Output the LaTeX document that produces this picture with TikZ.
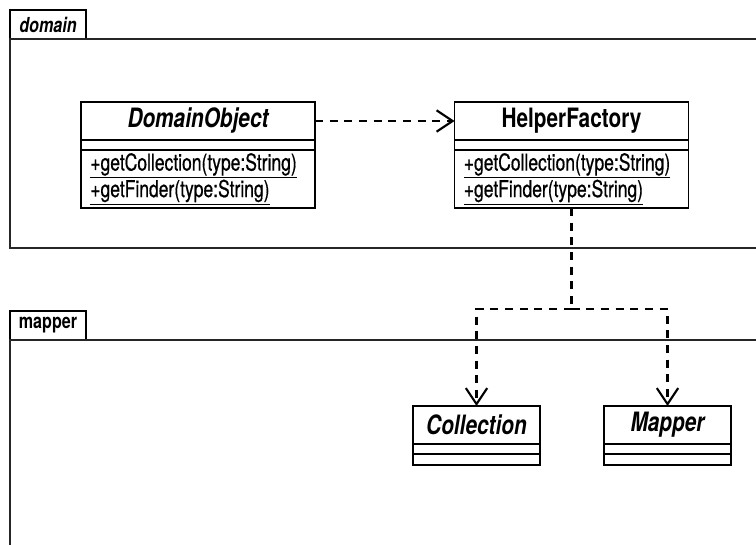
\documentclass[tikz,border=0pt]{standalone}
\usepackage{fontspec}
\setmainfont{TeX Gyre Heros}[FakeStretch=0.78]
\newfontfamily\opsfont{TeX Gyre Heros}[FakeStretch=0.75, FakeBold=0.6]
\usetikzlibrary{positioning, arrows.meta}
\tikzset{
	pkgtab/.style={
			draw=black,
			line width=1.3pt,
			minimum width=57pt,
			minimum height=21.75pt,
			inner sep=0pt,
			font=\fontsize{15.5}{17}\selectfont\bfseries
		},
	pkgline/.style={
			draw=black!85,
			line width=1.2pt
		},
	classname/.style={
			draw=black,
			line width=1.3pt,
			minimum width=175.5pt,
			minimum height=28.5pt,
			inner sep=0pt,
			outer sep=0pt,
			font=\fontsize{20}{22}\selectfont\bfseries
		},
	classattr/.style={
			classname,
			minimum height=7.5pt
		},
	classops/.style={
			draw=black,
			line width=1.3pt,
			text width=161.5pt,
			inner xsep=7pt,
			inner ysep=0pt,
			outer sep=0pt,
			minimum height=43.5pt,
			align=left,
			font=\opsfont\fontsize{17.5}{18}\selectfont
		},
	smallname/.style={
			classname,
			minimum width=95.25pt
		},
	smallpart/.style={
			smallname,
			minimum height=7.5pt
		},
	depline/.style={
			draw=black,
			line width=1.6pt,
			dash pattern=on 6pt off 5pt
		},
	dep/.style={
			depline,
			-{Straight Barb[length=12pt,width=16pt]}
		}
}

\begin{document}
\begin{tikzpicture}[x=0.75pt, y=-0.75pt]
\useasboundingbox (0,0) rectangle (756,545);

% domain package
\node[pkgtab, font=\fontsize{15.5}{17}\selectfont\bfseries\itshape] (domtab) at (48,24.5) {domain};
\draw[pkgline] (756,39) -- (10,39) -- (10,248) -- (756,248);

% mapper package
\node[pkgtab] (maptab) at (48,325.5) {mapper};
\draw[pkgline] (756,340) -- (10,340) -- (10,545);

% classes in domain
\node[classname, font=\fontsize{20}{22}\selectfont\bfseries\itshape] (do) at (198,121) {DomainObject};
\node[classattr, below=0pt of do] (doattr) {};
\node[classops, below=0pt of doattr] (doops) {\underline{+getCollection(type:String)}\\\underline{+getFinder(type:String)}};

\node[classname] (hf) at (571.5,121) {HelperFactory};
\node[classattr, below=0pt of hf] (hfattr) {};
\node[classops, below=0pt of hfattr] (hfops) {\underline{+getCollection(type:String)}\\\underline{+getFinder(type:String)}};

% classes in mapper
\node[smallname, font=\fontsize{20}{22}\selectfont\bfseries\itshape] (coll) at (476.5,425) {Collection};
\node[smallpart, below=0pt of coll] (collattr) {};
\node[smallpart, minimum height=8.25pt, below=0pt of collattr] (collops) {};

\node[smallname, font=\fontsize{20}{22}\selectfont\bfseries\itshape] (map) at (667.5,425) {Mapper};
\node[smallpart, below=0pt of map] (mapattr) {};
\node[smallpart, minimum height=8.25pt, below=0pt of mapattr] (mapops) {};

% dependencies
\coordinate (split) at (571.5,309);
\draw[dep] (do) -- (hf);
\draw[depline] (hfops) -- (split);
\draw[dep] (split) -| (coll);
\draw[dep] (split) -| (map);

\end{tikzpicture}
\end{document}
